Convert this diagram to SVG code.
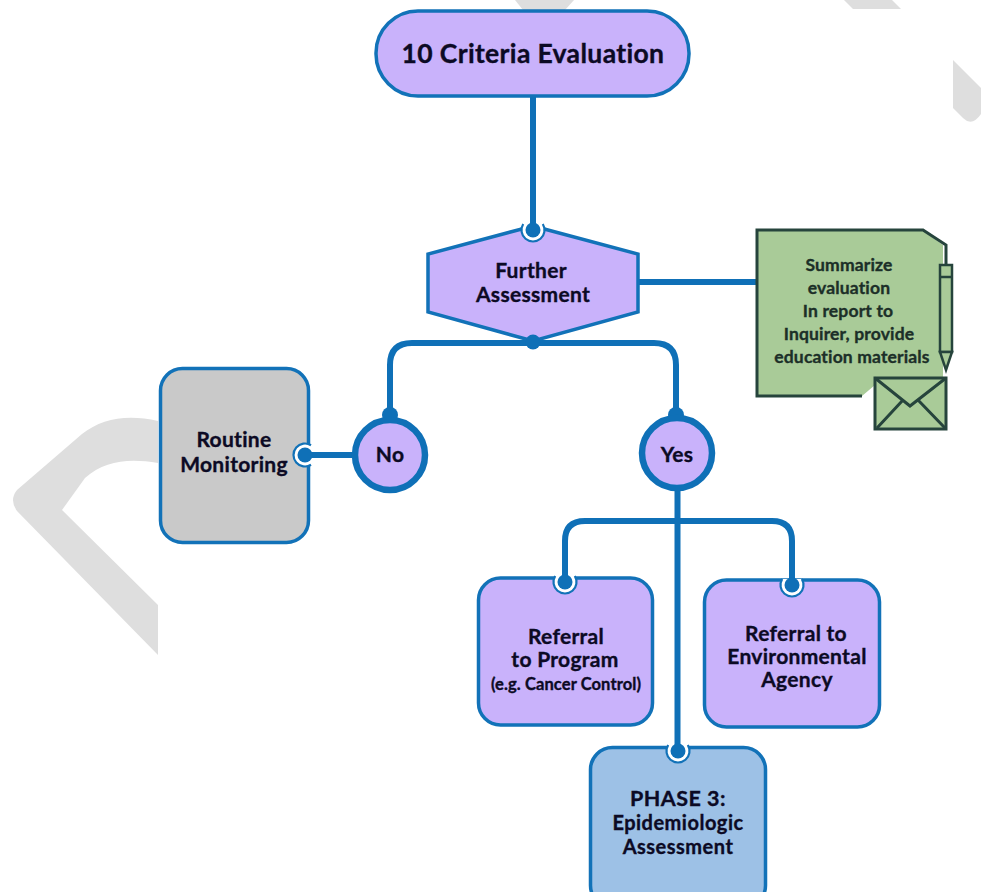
<svg xmlns="http://www.w3.org/2000/svg" width="981" height="892" viewBox="0 0 981 892">
<style>
text{font-family:"Lato","Open Sans","Liberation Sans",sans-serif;font-weight:700;text-anchor:middle;fill:#0c0a24;stroke:#0c0a24;stroke-width:.35;font-size:21px;letter-spacing:.3px}
.s{font-size:17.5px;fill:#1c2f28;stroke:#1c2f28;letter-spacing:.15px}
.m{font-size:20px;letter-spacing:.5px}
.b{stroke:#1272b8;stroke-width:3.5}
.c{fill:none;stroke:#0f70b7;stroke-width:6}
.d{fill:#0f70b7}
.g{fill:#dedede}
.p{fill:#c9b2fb}
.e{fill:#a9cb98;stroke:#26443c;stroke-width:3}
.l{fill:none;stroke:#26443c;stroke-width:3}
</style>
<defs>
<g id="notch"><path d="M-9.8 -6A11.5 11.5 0 1 0 9.8 -6" fill="#fff" stroke="#1272b8" stroke-width="2.2"/><circle class="d" r="7.5"/></g>
</defs>
<rect width="981" height="892" fill="#fff"/>
<g id="watermark">
<path class="g" d="M515 0H574L565 10H523Z"/>
<path class="g" d="M844 0H892L901 9H853Z"/>
<path class="g" d="M953 60L981 88V114Q972 127 963 118L953 108Z"/>
<path class="g" d="M158 421C128 414 102 418 82 434L17 490Q9 500 17 511L158 655V605L62 510L85 478C105 460 130 458 158 463Z"/>
</g>
<g id="connectors">
<path class="c" d="M533 96V230"/>
<path class="c" d="M639 282H757"/>
<path class="c" d="M390 415V365Q390 343 412 343H654Q676 343 676 365V415"/>
<path class="c" d="M305 455H352"/>
<path class="c" d="M677.5 490V751"/>
<path class="c" d="M565 581V541Q565 521 585 521H772Q792 521 792 541V584"/>
<circle class="d" cx="390" cy="415" r="8"/>
<circle class="d" cx="676" cy="415" r="8"/>
</g>
<g id="n-criteria"><rect class="p b" x="376" y="11" width="313" height="85" rx="42"/><text x="533" y="63" style="font-size:26.5px;letter-spacing:.35px">10 Criteria Evaluation</text></g>
<g id="n-further"><path class="p b" d="M533 226L638 254V312L533 341L428 312V254Z"/><use href="#notch" x="533" y="230"/><circle class="d" cx="533" cy="342" r="7.5"/><text x="531" y="278">Further</text><text x="533" y="302">Assessment</text></g>
<g id="n-summary">
<path d="M757 396H862L875 385V378H943V245L922 230H757Z" fill="#a9cb98"/>
<path class="l" d="M862 396H757V230H923L946 245V266"/>
<rect class="e" x="940" y="265" width="12" height="87" style="stroke-width:2.5"/><path class="e" d="M940 352H952L946 370Z" style="stroke-width:2.5"/><path fill="none" stroke="#26443c" stroke-width="2.5" d="M940 277H952"/>
<rect class="e" x="875" y="378" width="71" height="51"/><path class="l" d="M875 378L910 406L946 378M877 428L903 400M945 428L918 400"/>
<text class="s" x="849" y="271">Summarize</text><text class="s" x="849" y="294">evaluation</text><text class="s" x="848" y="317">In report to</text><text class="s" x="849" y="340">Inquirer, provide</text><text class="s" x="852" y="363">education materials</text>
</g>
<g id="n-routine"><rect class="b" x="160.5" y="368.5" width="148" height="174" rx="22" fill="#c9c9c9"/><use href="#notch" transform="translate(305 455) rotate(90)"/><text x="234" y="447">Routine</text><text x="234" y="472">Monitoring</text></g>
<g id="n-no"><circle class="p" cx="390" cy="455" r="35" stroke="#0f70b7" stroke-width="6.5"/><text x="390" y="462">No</text></g>
<g id="n-yes"><circle class="p" cx="677" cy="453" r="35" stroke="#0f70b7" stroke-width="6.5"/><text x="677" y="462">Yes</text></g>
<g id="n-program"><rect class="p b" x="478.5" y="578" width="174" height="147" rx="22"/><use href="#notch" x="565" y="582"/><text x="566" y="644">Referral</text><text x="565" y="667">to Program</text><text x="566" y="690" style="font-size:16.5px;letter-spacing:.1px">(e.g. Cancer Control)</text></g>
<g id="n-agency"><rect class="p b" x="704.5" y="580" width="175" height="147" rx="22"/><use href="#notch" x="792" y="585"/><text x="796" y="641">Referral to</text><text x="797" y="664">Environmental</text><text x="797" y="687">Agency</text></g>
<g id="n-phase3"><rect x="590.5" y="747.5" width="175" height="160" rx="22" fill="#9dc1e6" class="b"/><use href="#notch" x="678" y="751"/><text class="m" x="678" y="806" style="font-size:21.5px">PHASE 3:</text><text class="m" x="678" y="830">Epidemiologic</text><text class="m" x="678" y="854">Assessment</text></g>
</svg>
